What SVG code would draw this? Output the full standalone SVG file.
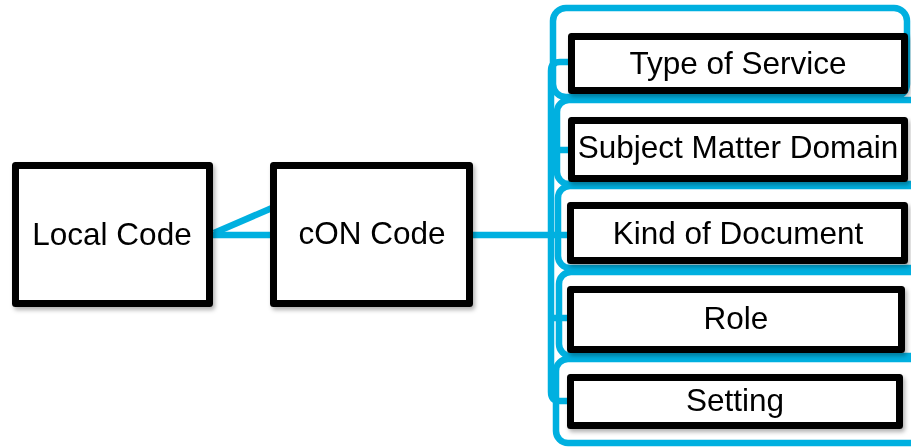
<svg xmlns="http://www.w3.org/2000/svg" width="911" height="448" viewBox="0 0 911 448">
<defs>
<filter id="sh" x="-10%" y="-10%" width="130%" height="140%">
<feDropShadow dx="2" dy="3" stdDeviation="2" flood-color="#000" flood-opacity="0.3"/>
</filter>
<style>
.box{fill:#fff;stroke:#000;stroke-width:7;stroke-linejoin:round}
.grp{fill:none;stroke:#00B0E0;stroke-width:6.5}
.con{fill:none;stroke:#00B0E0;stroke-width:6.5;stroke-linejoin:round}
text{font-family:"Liberation Sans",Arial,sans-serif;font-size:31.5px;fill:#000;text-anchor:middle}
</style>
</defs>
<rect width="911" height="448" fill="#fff"/>
<g id="groups">
<rect class="grp" x="557" y="100" width="380" height="84" rx="12"/>
<rect class="grp" x="558" y="186" width="380" height="82" rx="12"/>
<rect class="grp" x="559" y="272" width="380" height="84" rx="12"/>
<rect class="grp" x="556" y="359" width="380" height="84" rx="12"/>
<rect class="grp" x="553" y="8" width="354" height="89" rx="13"/>
</g>
<g id="connectors">
<path class="con" d="M213,235 H272"/>
<path class="con" d="M214,233 L272,208"/>
<path class="con" d="M473,235 H551"/>
<path class="con" d="M570,62 H560 Q551,62 551,71 V392 Q551,401 560,401 H570"/>
<path class="con" d="M551,150 H570 M551,235 H570 M551,318 H570"/>
</g>
<g id="local-code" filter="url(#sh)">
<rect class="box" x="15.5" y="165.5" width="194" height="138"/>
<text x="112" y="245">Local Code</text>
</g>
<g id="con-code" filter="url(#sh)">
<rect class="box" x="273.5" y="165.5" width="196" height="138"/>
<text x="372" y="244">cON Code</text>
</g>
<g id="type-of-service" filter="url(#sh)">
<rect class="box" x="571.5" y="36.5" width="333" height="54"/>
<text x="738" y="74">Type of Service</text>
</g>
<g id="subject-matter-domain" filter="url(#sh)">
<rect class="box" x="571.5" y="120.5" width="333" height="58"/>
<text x="738" y="158">Subject Matter Domain</text>
</g>
<g id="kind-of-document" filter="url(#sh)">
<rect class="box" x="570.5" y="205.5" width="334" height="55"/>
<text x="738" y="244">Kind of Document</text>
</g>
<g id="role" filter="url(#sh)">
<rect class="box" x="570.5" y="289.5" width="331" height="60"/>
<text x="736" y="329">Role</text>
</g>
<g id="setting" filter="url(#sh)">
<rect class="box" x="570.5" y="377.5" width="329" height="48"/>
<text x="735" y="411">Setting</text>
</g>
</svg>
